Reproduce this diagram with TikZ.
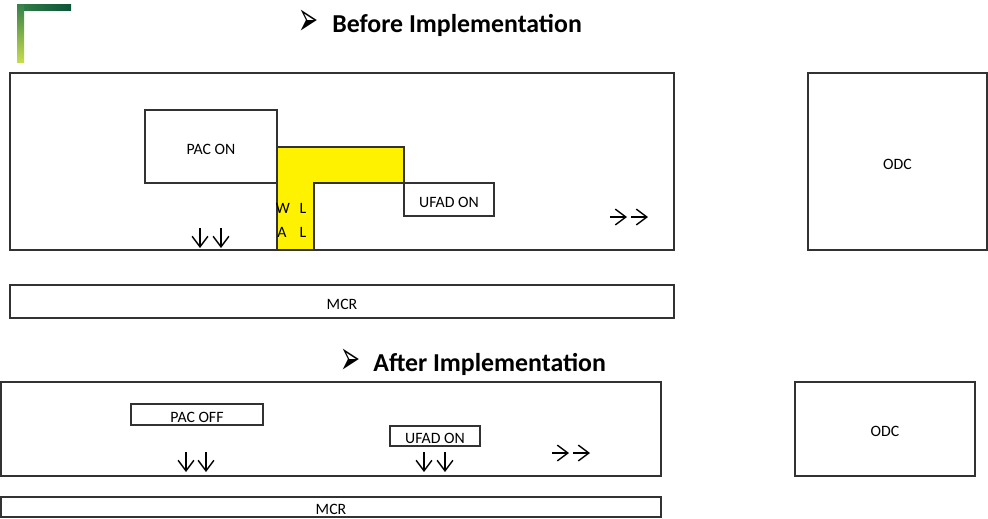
\documentclass[tikz,border=0pt]{standalone}
\usepackage{fontspec}
\setmainfont{Carlito}
\newfontfamily\symfont{DejaVu Sans}
\usetikzlibrary{arrows.meta}

\definecolor{dkgreen}{RGB}{12,84,56}
\definecolor{midgreen}{RGB}{52,128,72}
\definecolor{ltgreen}{RGB}{198,220,76}
\definecolor{edge}{RGB}{50,50,50}

\newcommand{\bulletmark}{\scalebox{0.8}[1.6]{\symfont ➢}}

\tikzset{
  box/.style={draw=edge, line width=0.8pt, inner sep=0pt, text height=0.9em, text depth=0pt,
    font=\fontsize{9}{10}\selectfont},
  tag/.style={inner sep=0pt, font=\fontsize{9}{10}\selectfont},
  heading/.style={inner sep=0pt, anchor=west, font=\fontsize{14.7}{16}\selectfont\bfseries},
  bullet/.style={inner sep=0pt, font=\fontsize{17}{18}\selectfont},
  flow/.style={black, line width=0.8pt, -{Straight Barb[length=6pt, width=9pt]}},
}

\begin{document}
\begin{tikzpicture}[x=0.02cm, y=-0.02cm]

\useasboundingbox (0,0) rectangle (988,518);

% corner mark
\shade[left color=midgreen, right color=dkgreen] (17,4) rectangle (71,10);
\shade[top color=midgreen, bottom color=ltgreen] (17,4) rectangle (24,62);

% before
\node[bullet] (bmark) at (309,23) {\bulletmark};
\node[heading] (before) at (332,25) {Before Implementation};

\node[box, minimum width=13.28cm, minimum height=3.54cm] (room1) at (342,161.5) {};

\filldraw[fill=yellow, draw=edge, line width=0.8pt]
  (277,147) -- (404,147) -- (404,183) -- (314,183) -- (314,250) -- (277,250) -- cycle;

\node[box, minimum width=2.64cm, minimum height=1.46cm] (pacon) at (211,146.5) {PAC ON};
\node[box, minimum width=1.8cm, minimum height=0.66cm] (ufad1) at (449,199.5) {UFAD ON};

\node[tag] (w1) at (283,208) {W};
\node[tag] (l1) at (303,208) {L};
\node[tag] (a1) at (282,232) {A};
\node[tag] (l2) at (303,232) {L};

\foreach \x in {200,221} \draw[flow] (\x,228) -- (\x,248);
\foreach \x in {610,631} \draw[flow] (\x,217) -- (\x+17,217);

\node[box, minimum width=3.58cm, minimum height=3.54cm] (odc1) at (897.5,161.5) {ODC};
\node[box, minimum width=13.28cm, minimum height=0.66cm] (mcr1) at (342,301.5) {MCR};

% after
\node[bullet] (amark) at (351,362) {\bulletmark};
\node[heading] (after) at (373,364) {After Implementation};

\node[box, minimum width=13.2cm, minimum height=1.88cm] (room2) at (331,429) {};
\node[box, minimum width=2.64cm, minimum height=0.42cm] (pacoff) at (197,414.5) {PAC OFF};
\node[box, minimum width=1.8cm, minimum height=0.4cm] (ufad2) at (435,436) {UFAD ON};

\foreach \x in {186,206,424,445} \draw[flow] (\x,452) -- (\x,472);
\foreach \x in {552,573} \draw[flow] (\x,453) -- (\x+17,453);

\node[box, minimum width=3.6cm, minimum height=1.88cm] (odc2) at (885,429) {ODC};
\node[box, minimum width=13.2cm, minimum height=0.4cm] (mcr2) at (331,507) {MCR};

\end{tikzpicture}
\end{document}
